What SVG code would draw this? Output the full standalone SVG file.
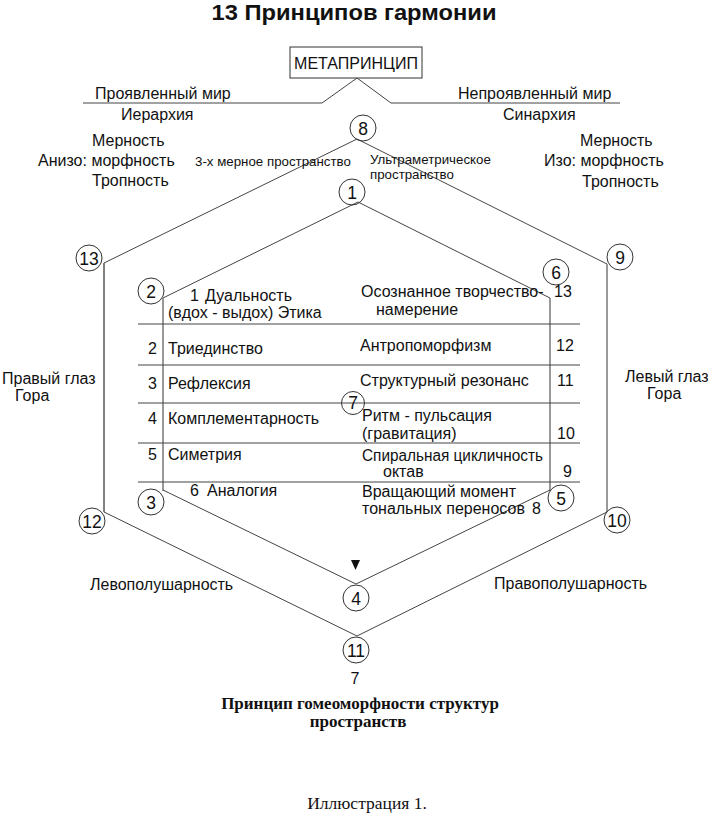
<svg xmlns="http://www.w3.org/2000/svg" width="708" height="839" viewBox="0 0 708 839">
<style>
text{font-family:"Liberation Sans",Arial,sans-serif;fill:#111;}
.t{font-size:16px;}
.s{font-size:13.3px;}
.c{font-size:17.5px;text-anchor:middle;}
.ser{font-family:"Liberation Serif","Times New Roman",serif;}
.ln{fill:none;stroke:#444;stroke-width:1;}
.vl{fill:none;stroke:#777;stroke-width:1.5;}
.nd{fill:none;stroke:#333;stroke-width:1;}
</style>
<rect width="708" height="839" fill="#fff"/>
<text x="354" y="20" text-anchor="middle" font-size="22" font-weight="bold" textLength="285" lengthAdjust="spacingAndGlyphs">13 Принципов гармонии</text>

<g id="connectors">
<polyline class="ln" points="83,103 322,103 357,78 391,103 620,103"/>
<polyline class="ln" points="104,512 104,263 357,139 607,264"/>
<line class="vl" x1="104" y1="263" x2="104" y2="512"/>
<line class="vl" x1="607" y1="264" x2="607" y2="512"/>
<polyline class="ln" points="104,512 357,636 607,512"/>
<polyline class="ln" points="163,298 358,202 550,298"/>
<line class="vl" x1="163" y1="298" x2="163" y2="491"/>
<line class="vl" x1="550" y1="298" x2="550" y2="491"/>
<polyline class="ln" points="163,490 356,584 550,490"/>
<line class="ln" x1="138" y1="324" x2="580" y2="324"/>
<line class="ln" x1="138" y1="365" x2="580" y2="365"/>
<line class="ln" x1="138" y1="403" x2="580" y2="403"/>
<line class="ln" x1="138" y1="443" x2="580" y2="443"/>
<line class="ln" x1="138" y1="482" x2="580" y2="482"/>
<polygon points="351,560 360,560 355.5,570" fill="#111"/>
</g>

<g id="meta">
<rect x="290" y="47" width="132" height="31" fill="#fff" stroke="#333" stroke-width="1"/>
<text x="356" y="69" class="t" text-anchor="middle">МЕТАПРИНЦИП</text>
</g>

<g id="n8"><circle class="nd" cx="363" cy="128" r="13"/><text class="c" x="363" y="134.5">8</text></g>
<g id="n1"><circle class="nd" cx="352" cy="192" r="13"/><text class="c" x="352" y="198.5">1</text></g>
<g id="n13"><circle class="nd" cx="89" cy="258" r="13"/><text class="c" x="89" y="264.5">13</text></g>
<g id="n9"><circle class="nd" cx="620" cy="257" r="13"/><text class="c" x="620" y="263.5">9</text></g>
<g id="n2"><circle class="nd" cx="151" cy="291" r="13"/><text class="c" x="151" y="297.5">2</text></g>
<g id="n6"><circle class="nd" cx="556" cy="272" r="13"/><text class="c" x="556" y="278.5">6</text></g>
<g id="n7"><circle class="nd" cx="353" cy="403" r="11.5"/><text class="c" x="353" y="409">7</text></g>
<g id="n3"><circle class="nd" cx="151" cy="502" r="13"/><text class="c" x="151" y="508.5">3</text></g>
<g id="n5"><circle class="nd" cx="561" cy="498" r="13"/><text class="c" x="561" y="504.5">5</text></g>
<g id="n12"><circle class="nd" cx="92" cy="521" r="13"/><text class="c" x="92" y="527.5">12</text></g>
<g id="n10"><circle class="nd" cx="617" cy="520" r="13"/><text class="c" x="617" y="526.5">10</text></g>
<g id="n4"><circle class="nd" cx="356" cy="598" r="13"/><text class="c" x="356" y="604.5">4</text></g>
<g id="n11"><circle class="nd" cx="356" cy="650" r="13"/><text class="c" x="356" y="656.5">11</text></g>

<g id="labels">
<text class="t" x="95" y="99">Проявленный мир</text>
<text class="t" x="121" y="120">Иерархия</text>
<text class="t" x="458" y="99">Непроявленный мир</text>
<text class="t" x="503" y="120">Синархия</text>
<text class="t" x="92" y="146">Мерность</text>
<text class="t" x="38" y="166">Анизо: морфность</text>
<text class="t" x="92" y="186">Тропность</text>
<text class="t" x="580" y="146">Мерность</text>
<text class="t" x="544" y="166">Изо: морфность</text>
<text class="t" x="582" y="187">Тропность</text>
<text class="s" x="195" y="166">3-х мерное пространство</text>
<text class="s" x="370" y="164">Ультраметрическое</text>
<text class="s" x="370" y="179">пространство</text>
<text class="t" x="2" y="384">Правый глаз</text>
<text class="t" x="15" y="401">Гора</text>
<text class="t" x="625" y="382">Левый глаз</text>
<text class="t" x="647" y="399">Гора</text>
<text class="t" x="90" y="590">Левополушарность</text>
<text class="t" x="494" y="589">Правополушарность</text>
<text class="t" x="355" y="684" text-anchor="middle">7</text>
</g>

<g id="table">
<text class="t" x="190" y="301">1</text><text class="t" x="205" y="301">Дуальность</text>
<text class="t" x="168" y="318">(вдох - выдох) Этика</text>
<text class="t" x="148" y="354">2</text><text class="t" x="168" y="354">Триединство</text>
<text class="t" x="148" y="389">3</text><text class="t" x="168" y="389">Рефлексия</text>
<text class="t" x="148" y="424">4</text><text class="t" x="168" y="424">Комплементарность</text>
<text class="t" x="148" y="460">5</text><text class="t" x="168" y="460">Симетрия</text>
<text class="t" x="190" y="496">6</text><text class="t" x="207" y="496">Аналогия</text>
<text class="t" x="361" y="297">Осознанное творчество-</text>
<text class="t" x="554" y="297">13</text>
<text class="t" x="376" y="315">намерение</text>
<text class="t" x="360" y="351">Антропоморфизм</text>
<text class="t" x="556" y="351">12</text>
<text class="t" x="360" y="386">Структурный резонанс</text>
<text class="t" x="557" y="386">11</text>
<text class="t" x="362" y="421">Ритм - пульсация</text>
<text class="t" x="362" y="439">(гравитация)</text>
<text class="t" x="557" y="439">10</text>
<text class="t" x="362" y="461" textLength="181" lengthAdjust="spacingAndGlyphs">Спиральная цикличность</text>
<text class="t" x="383" y="477">октав</text>
<text class="t" x="563" y="477">9</text>
<text class="t" x="362" y="497">Вращающий момент</text>
<text class="t" x="362" y="514">тональных переносов</text><text class="t" x="532" y="514">8</text>
</g>

<g id="caption">
<text class="ser" x="360" y="709" text-anchor="middle" font-size="17" font-weight="bold">Принцип гомеоморфности структур</text>
<text class="ser" x="358" y="727" text-anchor="middle" font-size="17" font-weight="bold">пространств</text>
<text class="ser" x="367" y="809" text-anchor="middle" font-size="17.5">Иллюстрация 1.</text>
</g>
</svg>
